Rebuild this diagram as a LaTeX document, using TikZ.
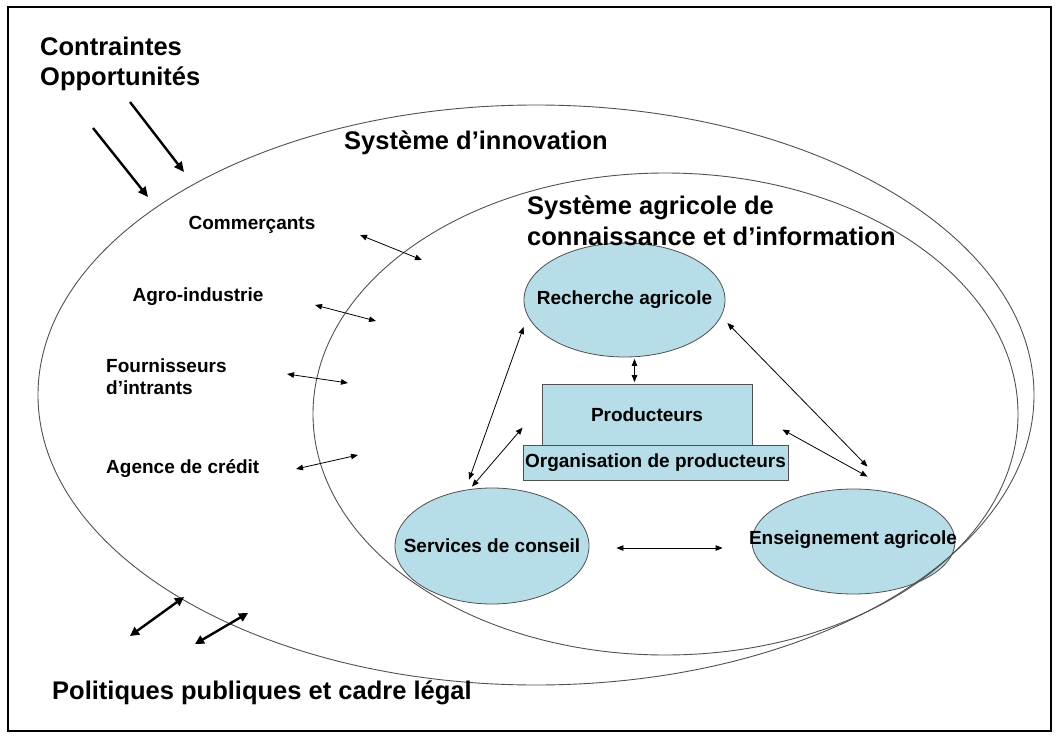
\documentclass[tikz,border=0pt]{standalone}
\usepackage{fontspec}
\setmainfont{Liberation Sans}
\usetikzlibrary{shapes.geometric,arrows.meta,calc}
\definecolor{nodeblue}{RGB}{183,221,232}
\definecolor{edgegray}{RGB}{80,80,80}
\begin{document}
\begin{tikzpicture}[x=1pt,y=-1pt,
  big/.style={font=\bfseries\fontsize{25.5}{30.5}\selectfont, inner sep=0pt},
  lab/.style={font=\bfseries\fontsize{19}{22}\selectfont, inner sep=0pt},
  bubble/.style={ellipse, draw=edgegray, line width=0.8pt, fill=nodeblue, inner sep=0pt},
  slab/.style={rectangle, draw=edgegray, line width=0.8pt, fill=nodeblue, inner sep=0pt,
    font=\bfseries\fontsize{19}{22}\selectfont},
  region/.style={ellipse, draw=edgegray, line width=0.9pt, inner sep=0pt},
  link/.style={{Triangle[length=7pt,width=5.5pt]}-{Triangle[length=7pt,width=5.5pt]}, line width=0.8pt},
  bigboth/.style={{Triangle[length=9pt,width=9pt]}-{Triangle[length=9pt,width=9pt]}, line width=2.4pt},
  bigone/.style={-{Triangle[length=10pt,width=9pt]}, line width=2.4pt},
]
\useasboundingbox (0,0) rectangle (1059,738);
\draw[line width=2pt] (8,7) rectangle (1051,731);

% blue components
\node[bubble, minimum width=201pt, minimum height=114pt] (rech) at (624.5,300) {};
\node[lab] (rechtext) at (rech.center) {Recherche agricole};
\node[bubble, minimum width=194pt, minimum height=116pt] (serv) at (492,546) {};
\node[lab] (servtext) at (serv.center) {Services de conseil};
\node[bubble, minimum width=203pt, minimum height=105pt] (ens) at (853.5,541.5) {};
\node[lab] (enstext) at (853,540) {Enseignement agricole};
\node[slab, minimum width=210pt, minimum height=61pt] (prod) at (647,414.5) {Producteurs};
\node[slab, minimum width=265pt, minimum height=35pt] (org) at (655.5,462.5) {Organisation de producteurs};

% systems
\node[region, minimum width=996pt, minimum height=580pt] (innov) at (536,395) {};
\node[region, minimum width=705pt, minimum height=482pt] (akis) at (665.5,414) {};

% titles
\node[big, align=left, anchor=west] (contr) at (40,64) {Contraintes\\Opportunités};
\node[big] (innovlab) at (476,143) {Système d’innovation};
\node[big, align=left, anchor=west] (akislab) at (527,221) {Système agricole de\\connaissance et d’information};
\node[big, anchor=west] (polit) at (52,693) {Politiques publiques et cadre légal};

% actors
\node[lab] (comm) at (252,225) {Commerçants};
\node[lab] (agro) at (198,297) {Agro-industrie};
\node[lab, align=left, anchor=west] (fourn) at (106,377) {Fournisseurs\\d’intrants};
\node[lab, anchor=west] (agence) at (106,469) {Agence de crédit};

% actor links across the AKIS border
\coordinate (c1a) at (360,235); \coordinate (c1b) at (422,260);
\coordinate (c2a) at (315,305); \coordinate (c2b) at (376,321);
\coordinate (c3a) at (287,374); \coordinate (c3b) at (348,383);
\coordinate (c4a) at (296,469); \coordinate (c4b) at (358,455);
\draw[link] (c1a) -- (c1b);
\draw[link] (c2a) -- (c2b);
\draw[link] (c3a) -- (c3b);
\draw[link] (c4a) -- (c4b);

% links between components
\draw[link] ([xshift=10pt,yshift=-1.5pt]rech.south) -- ([xshift=10pt,yshift=1.5pt]rech.south |- prod.north);
\draw[link] ([yshift=-27pt]rech.west) -- ([xshift=-23pt,yshift=8pt]serv.north);
\draw[link] ([xshift=-20pt,yshift=1pt]serv.north) -- ([yshift=17pt]org.north west);
\draw[link] ([xshift=2pt,yshift=-23pt]rech.east) -- ([xshift=14pt,yshift=22pt]ens.north);
\draw[link] ([xshift=30pt,yshift=-15pt]prod.east) -- ([xshift=14pt,yshift=12pt]ens.north);
\draw[link] ([xshift=27pt,yshift=-2pt]serv.east) -- ([xshift=-29pt,yshift=-6.5pt]ens.west);

% context arrows
\coordinate (k1a) at (93,128); \coordinate (k1b) at (148,197);
\coordinate (k2a) at (130,102); \coordinate (k2b) at (184,172);
\draw[bigone] (k1a) -- (k1b);
\draw[bigone] (k2a) -- (k2b);
\coordinate (p1a) at (130,636); \coordinate (p1b) at (184,597);
\coordinate (p2a) at (195,644); \coordinate (p2b) at (248,613);
\draw[bigboth] (p1a) -- (p1b);
\draw[bigboth] (p2a) -- (p2b);
\end{tikzpicture}
\end{document}
